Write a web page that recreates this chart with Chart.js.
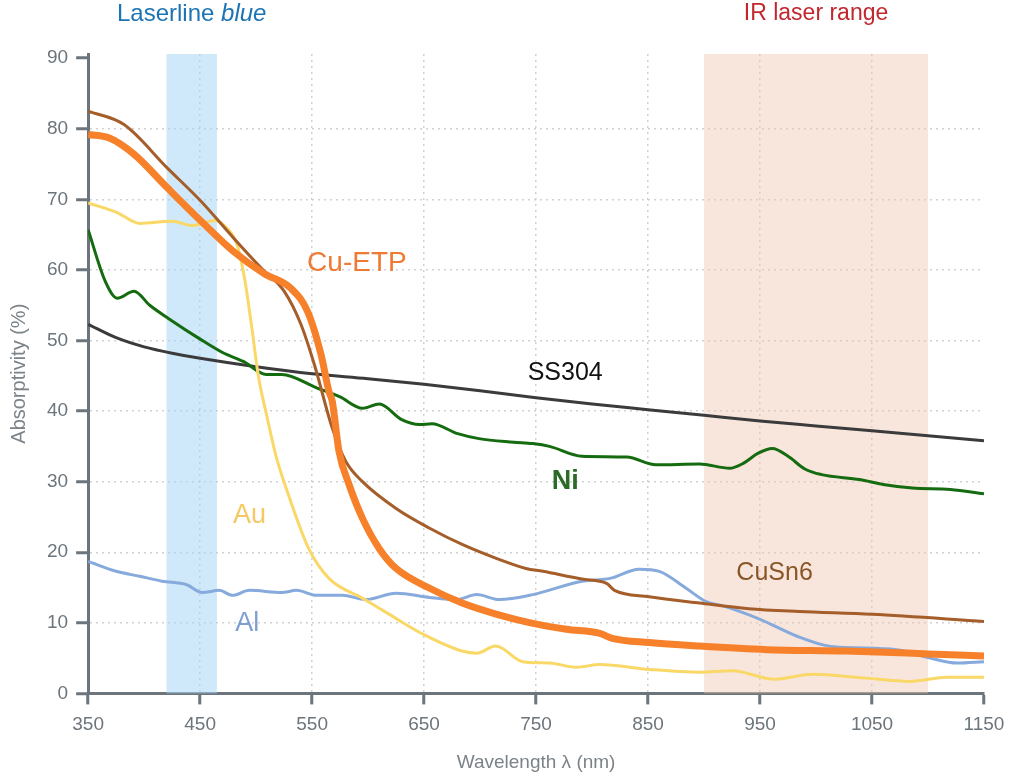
<!DOCTYPE html>
<html>
<head>
<meta charset="utf-8">
<script src="https://cdn.jsdelivr.net/npm/chart.js@4"></script>
<style>
  body { margin: 0; background: #fff; }
  #wrap { width: 1009px; height: 777px; }
</style>
</head>
<body>
<div id="wrap"><canvas id="absChart" width="1009" height="777"></canvas></div>
<script>
// wavelength (nm), absorptivity (%)
const cuEtp = [[350,79.2],[369,78.7],[391,76.4],[421,71.6],[451,66.9],[480,62.6],[507,59.5],[531,57.4],[546,54.1],[558,48.0],[565,42.8],[568,41.4],[574,34.3],[583,29.6],[595,24.8],[610,20.5],[625,17.7],[655,14.9],[684,12.8],[715,11.2],[745,10.0],[777,9.1],[807,8.5],[818,7.8],[851,7.2],[896,6.7],[956,6.2],[1027,6.0],[1100,5.6],[1150,5.3]];
const cuSn6 = [[350,82.5],[382,80.6],[421,74.4],[451,69.7],[480,64.5],[505,60.2],[525,57.0],[540,52.3],[552,46.6],[568,37.6],[580,32.9],[595,30.0],[625,26.2],[655,23.4],[684,21.1],[715,19.1],[741,17.7],[756,17.3],[791,16.2],[813,15.6],[820,14.6],[851,13.7],[896,12.8],[940,12.0],[985,11.6],[1050,11.2],[1150,10.2]];
const au = [[350,69.5],[375,68.2],[396,66.6],[425,66.9],[443,66.3],[463,67.0],[474,65.9],[483,63.6],[490,58.5],[496,52.0],[502,45.0],[510,39.0],[518,33.5],[527,29.0],[547,20.5],[565,16.3],[595,13.5],[619,11.2],[649,8.4],[684,6.0],[697,5.7],[714,6.7],[738,4.5],[762,4.3],[786,3.7],[807,4.1],[851,3.4],[896,3.0],[925,3.2],[963,2.0],[997,2.7],[1042,2.2],[1084,1.7],[1117,2.3],[1150,2.3]];
const ni = [[350,65.7],[365,58.5],[376,56.0],[391,57.0],[405,55.0],[422,53.1],[450,50.2],[470,48.3],[489,47.0],[509,45.2],[523,45.2],[554,43.3],[575,42.0],[595,40.4],[610,41.0],[630,38.8],[646,38.1],[657,38.2],[680,36.8],[699,36.1],[730,35.6],[747,35.4],[762,35.0],[791,33.6],[831,33.5],[857,32.4],[896,32.5],[923,31.9],[935,32.6],[948,34.0],[961,34.7],[975,33.6],[990,31.8],[1005,31.0],[1039,30.3],[1060,29.6],[1086,29.1],[1120,28.9],[1150,28.3]];
const ss304 = [[350,52.3],[375,50.4],[400,49.1],[425,48.2],[450,47.5],[500,46.3],[550,45.3],[600,44.6],[650,43.8],[700,42.9],[750,41.9],[800,41.0],[850,40.2],[900,39.4],[950,38.6],[1000,37.9],[1050,37.2],[1100,36.5],[1150,35.8]];
const al = [[350,18.7],[375,17.3],[396,16.6],[416,15.9],[438,15.4],[452,14.3],[467,14.6],[479,13.9],[494,14.6],[523,14.3],[536,14.6],[554,13.9],[577,13.9],[598,13.3],[625,14.2],[655,13.6],[679,13.3],[697,14.0],[717,13.3],[747,14.0],[791,15.9],[816,16.3],[842,17.6],[860,17.3],[884,14.9],[902,13.0],[917,12.4],[950,10.5],[983,8.1],[1012,6.7],[1072,6.2],[1102,5.0],[1126,4.3],[1150,4.5]];

const xTicks = [350, 450, 550, 650, 750, 850, 950, 1050, 1150];
const yTicks = [0, 10, 20, 30, 40, 50, 60, 70, 80, 90];
const blueBand = [420, 465];
const irBand = [900, 1100];

// label anchors (nm, %)
const seriesLabels = [
  { text: "Cu-ETP", at: [590, 61], color: "#ee7a33", size: 28, weight: "normal" },
  { text: "SS304", at: [776, 45.4], color: "#111", size: 25, weight: "normal" },
  { text: "Ni", at: [776, 30], color: "#2c6b26", size: 27, weight: "bold" },
  { text: "Au", at: [494, 25.2], color: "#f5c862", size: 27, weight: "normal" },
  { text: "Al", at: [492, 9.9], color: "#7f9fd2", size: 27, weight: "normal" },
  { text: "CuSn6", at: [963, 17.1], color: "#8a5628", size: 25, weight: "normal" }
];

const toPts = arr => arr.map(p => ({ x: p[0], y: p[1] }));
const gridGrey = "#cfd2d4";
const axisGrey = "#6c757c";
const FONT = "'Liberation Sans', Arial, sans-serif";

const bandsPlugin = {
  id: "bands",
  beforeDatasetsDraw(chart) {
    const { ctx, chartArea, scales } = chart;
    const x = scales.x;
    ctx.save();
    ctx.fillStyle = "rgba(167, 214, 245, 0.55)";
    let a = x.getPixelForValue(blueBand[0]), b = x.getPixelForValue(blueBand[1]);
    ctx.fillRect(a, chartArea.top, b - a, chartArea.bottom - chartArea.top);
    ctx.fillStyle = "rgba(240, 200, 180, 0.45)";
    a = x.getPixelForValue(irBand[0]); b = x.getPixelForValue(irBand[1]);
    ctx.fillRect(a, chartArea.top, b - a, chartArea.bottom - chartArea.top);
    ctx.restore();
  },
  afterDraw(chart) {
    const { ctx, scales } = chart;
    const x = scales.x, y = scales.y;
    ctx.save();
    ctx.textAlign = "center";
    ctx.textBaseline = "middle";
    seriesLabels.forEach(l => {
      ctx.fillStyle = l.color;
      ctx.font = l.weight + " " + l.size + "px " + FONT;
      ctx.fillText(l.text, x.getPixelForValue(l.at[0]), y.getPixelForValue(l.at[1]));
    });
    // band titles
    ctx.textAlign = "left";
    const t1 = "Laserline ", t2 = "blue";
    ctx.font = "24px " + FONT;
    const w1 = ctx.measureText(t1).width;
    ctx.font = "italic 24px " + FONT;
    const w2 = ctx.measureText(t2).width;
    const cx = x.getPixelForValue((blueBand[0] + blueBand[1]) / 2);
    const sx = cx - (w1 + w2) / 2;
    ctx.fillStyle = "#1b74b3";
    ctx.font = "24px " + FONT;
    ctx.fillText(t1, sx, 14);
    ctx.font = "italic 24px " + FONT;
    ctx.fillText(t2, sx + w1, 14);
    ctx.textAlign = "center";
    ctx.fillStyle = "#c1272d";
    ctx.font = "23px " + FONT;
    ctx.fillText("IR laser range", x.getPixelForValue((irBand[0] + irBand[1]) / 2), 14);
    ctx.restore();
  }
};

const line = (data, color, width, order) => ({
  data: toPts(data),
  borderColor: color,
  borderWidth: width,
  pointRadius: 0,
  tension: 0.4,
  cubicInterpolationMode: "monotone",
  fill: false,
  order: order
});

new Chart(document.getElementById("absChart"), {
  type: "line",
  data: {
    datasets: [
      line(ss304, "#3b3b3d", 3, 5),
      line(ni, "#156b0f", 3, 4),
      line(al, "#86aadc", 3, 3),
      line(au, "#f9d868", 3, 2),
      line(cuSn6, "#a55d2a", 3, 1),
      line(cuEtp, "#f7802a", 7, 0)
    ]
  },
  options: {
    responsive: false,
    animation: false,
    layout: { padding: { top: 54, right: 25, left: 3, bottom: 0 } },
    plugins: { legend: { display: false }, tooltip: { enabled: false } },
    scales: {
      x: {
        type: "linear",
        min: 350,
        max: 1150,
        afterBuildTicks: s => { s.ticks = xTicks.map(v => ({ value: v })); },
        afterFit: s => { s.paddingRight = 0; },
        border: { color: axisGrey, width: 3, dash: [2, 4] },
        grid: {
          color: c => (c.tick && (c.tick.value === 350 || c.tick.value === 1150)) ? "rgba(0,0,0,0)" : gridGrey,
          lineWidth: 1.5,
          tickColor: axisGrey,
          tickWidth: 3,
          tickLength: 11,
          tickBorderDash: []
        },
        ticks: { color: axisGrey, font: { family: FONT, size: 19 }, padding: 9, maxRotation: 0, callback: v => String(v) },
        title: { display: true, text: "Wavelength λ (nm)", color: "#7b8389", font: { family: FONT, size: 19 }, padding: { top: 6, bottom: 3 } }
      },
      y: {
        min: 0,
        max: 90.6,
        afterBuildTicks: s => { s.ticks = yTicks.map(v => ({ value: v })); },
        border: { color: axisGrey, width: 3, dash: [2, 4] },
        grid: {
          color: c => (c.tick && (c.tick.value === 0 || c.tick.value === 90)) ? "rgba(0,0,0,0)" : gridGrey,
          lineWidth: 1.5,
          tickColor: axisGrey,
          tickWidth: 3,
          tickLength: 12,
          tickBorderDash: []
        },
        ticks: { color: axisGrey, font: { family: FONT, size: 19 }, padding: 8, callback: v => String(v) },
        title: { display: true, text: "Absorptivity (%)", color: "#7b8389", font: { family: FONT, size: 20 }, padding: { bottom: 8 } }
      }
    }
  },
  plugins: [bandsPlugin]
});
</script>
</body>
</html>
